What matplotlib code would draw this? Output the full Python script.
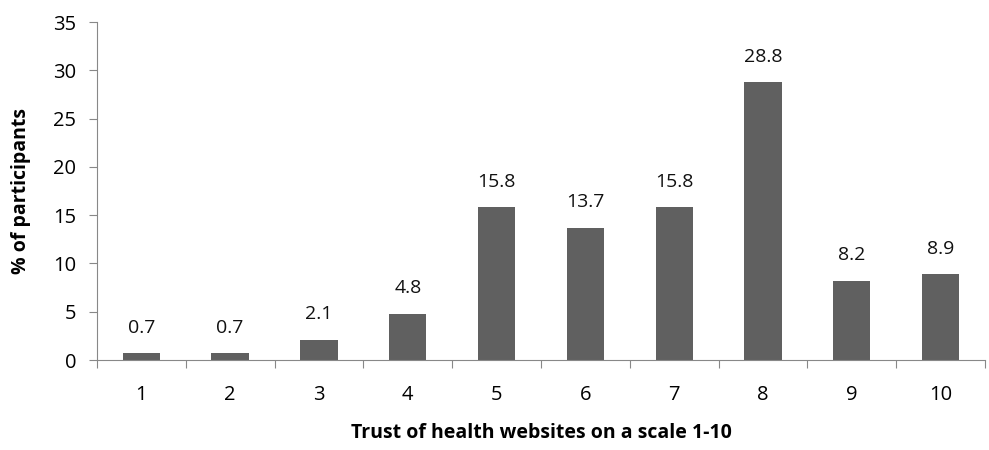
import matplotlib.pyplot as plt
import numpy as np

plt.rcParams['font.family'] = ['Open Sans', 'DejaVu Sans']

categories = ['1', '2', '3', '4', '5', '6', '7', '8', '9', '10']
values = [0.7, 0.7, 2.1, 4.8, 15.8, 13.7, 15.8, 28.8, 8.2, 8.9]

fig = plt.figure(figsize=(9.89, 4.5), dpi=100)
ax = fig.add_axes([0.098, 0.2, 0.898, 0.751])

x = np.arange(len(categories))
ax.bar(x, values, width=0.42, color='#606060', zorder=2)
for xi, v in zip(x, values):
    ax.text(xi, v + 1.7, f'{v:.1f}', ha='center', va='bottom', fontsize=14, color='#111111')

ax.set_xlim(-0.5, len(categories) - 0.5)
ax.set_ylim(0, 35)
ax.set_yticks(range(0, 36, 5))
ax.set_xticks(np.arange(-0.5, len(categories), 1))
ax.set_xticklabels([])
ax.set_xticks(x, minor=True)
ax.set_xticklabels(categories, minor=True)
ax.tick_params(axis='x', which='major', length=6, color='#888888', direction='out')
ax.tick_params(axis='x', which='minor', length=0, pad=18, labelsize=14.5)
ax.tick_params(axis='y', length=6, color='#888888', labelsize=14.5, pad=9)

for s in ['top', 'right']:
    ax.spines[s].set_visible(False)
for s in ['left', 'bottom']:
    ax.spines[s].set_color('#888888')

ax.set_xlabel('Trust of health websites on a scale 1-10', fontsize=14, fontweight='bold', labelpad=13)
ax.set_ylabel('% of participants', fontsize=14, fontweight='bold', labelpad=16)

fig.savefig('out.png', dpi=100)
